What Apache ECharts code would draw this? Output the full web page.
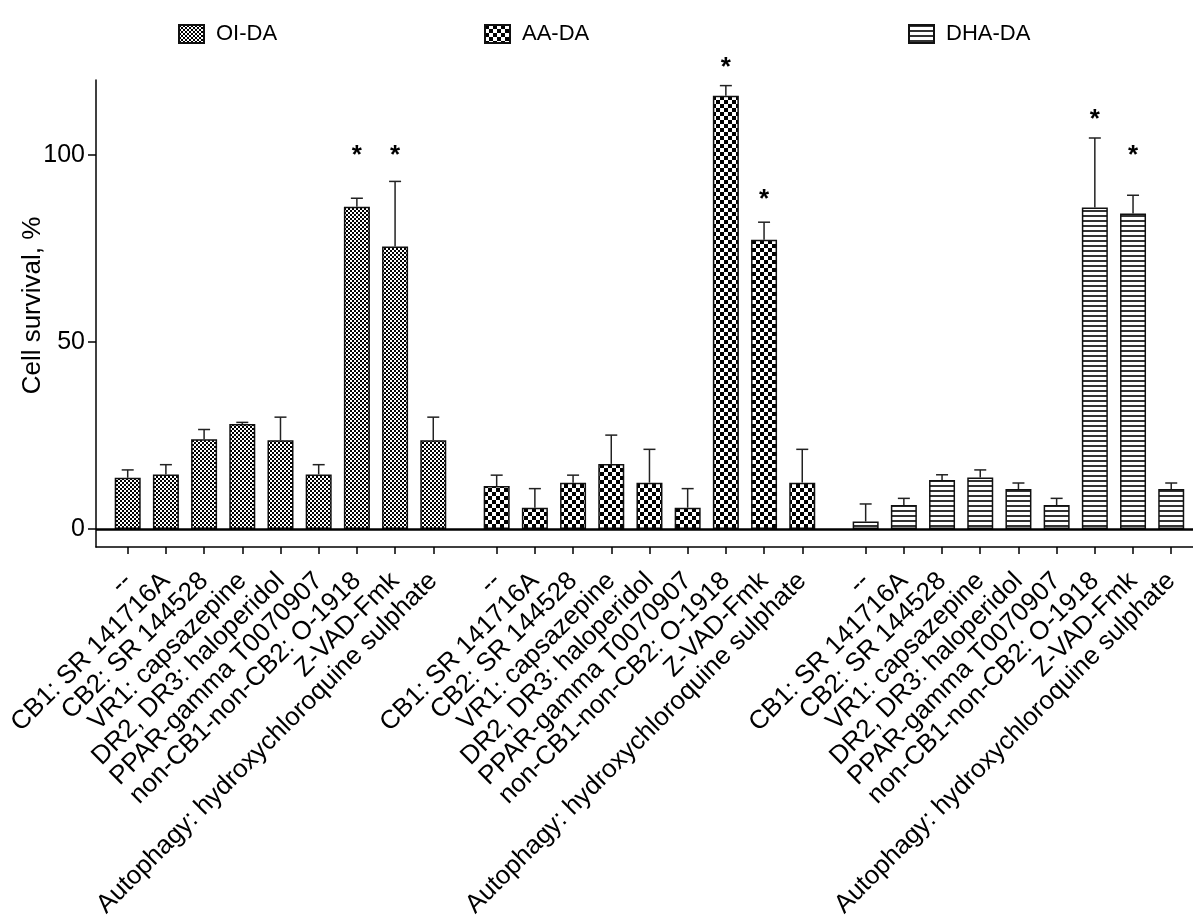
<!DOCTYPE html>
<html>
<head>
<meta charset="utf-8">
<script src="https://cdn.jsdelivr.net/npm/echarts@6/dist/echarts.min.js"></script>
<style>
html,body{margin:0;padding:0;background:#fff;}
#chart{width:1193px;height:916px;}
</style>
</head>
<body>
<div id="chart"></div>
<script>
// ---------- data ----------
const categories = ['--', 'CB1: SR 141716A', 'CB2: SR 144528', 'VR1: capsazepine',
  'DR2, DR3: haloperidol', 'PPAR-gamma T0070907', 'non-CB1-non-CB2: O-1918',
  'Z-VAD-Fmk', 'Autophagy: hydroxychloroquine sulphate'];
const seriesNames = ['OI-DA', 'AA-DA', 'DHA-DA'];
const oiValues  = [13.7, 14.6, 24.0, 28.1, 23.7, 14.6, 86.1, 75.5, 23.7];
const oiErrors  = [2.1, 2.6, 2.6, 0.4, 6.2, 2.6, 2.3, 17.4, 6.2];
const aaValues  = [11.5, 5.7, 12.4, 17.4, 12.4, 5.7, 115.8, 77.3, 12.4];
const aaErrors  = [2.9, 5.1, 2.0, 7.7, 8.9, 5.1, 2.7, 4.7, 8.9];
const dhaValues = [2.0, 6.4, 13.1, 13.8, 10.7, 6.4, 85.9, 84.3, 10.7];
const dhaErrors = [4.7, 1.8, 1.4, 2.0, 1.6, 1.8, 18.6, 4.9, 1.6];
// significance markers (level of the "*" on the value scale; null = none)
const oiStars  = [null, null, null, null, null, null, 101, 101, null];
const aaStars  = [null, null, null, null, null, null, 124.5, 89.2, null];
const dhaStars = [null, null, null, null, null, null, 110.8, 101, null];
const yTicks = [0, 50, 100];

// ---------- layout helpers ----------
const GROUP_STRIDE = 9.66; // slots between group starts (8 bars + gap)
function pos(g, i) { return +(g * GROUP_STRIDE + i).toFixed(3); }
const tickPositions = [];
const labelByPos = {};
for (let g = 0; g < 3; g++) {
  for (let i = 0; i < categories.length; i++) {
    const p = pos(g, i);
    tickPositions.push(p);
    labelByPos[p.toFixed(3)] = categories[i];
  }
}

// ---------- patterns ----------
function checker(cell) {
  const c = document.createElement('canvas');
  c.width = cell * 2; c.height = cell * 2;
  const ctx = c.getContext('2d');
  ctx.fillStyle = '#fff'; ctx.fillRect(0, 0, c.width, c.height);
  ctx.fillStyle = '#000';
  ctx.fillRect(0, 0, cell, cell);
  ctx.fillRect(cell, cell, cell, cell);
  return { image: c, repeat: 'repeat' };
}
function hlines(period, thick) {
  const c = document.createElement('canvas');
  c.width = 4; c.height = period;
  const ctx = c.getContext('2d');
  ctx.fillStyle = '#fff'; ctx.fillRect(0, 0, c.width, c.height);
  ctx.fillStyle = '#333';
  ctx.fillRect(0, 0, c.width, thick);
  return { image: c, repeat: 'repeat' };
}
const patterns = [checker(2), checker(4), hlines(5, 2)];

const allValues = [oiValues, aaValues, dhaValues];
const allErrors = [oiErrors, aaErrors, dhaErrors];
const allStars = [oiStars, aaStars, dhaStars];

const series = [];
seriesNames.forEach((name, g) => {
  series.push({
    name: name,
    type: 'bar',
    barWidth: 26,
    barGap: '-100%',
    data: allValues[g].map((v, i) => [pos(g, i), v]),
    itemStyle: { color: patterns[g], borderColor: '#111', borderWidth: 1.5 },
    z: 2,
    markLine: g === 0 ? {
      silent: true, symbol: 'none', label: { show: false },
      lineStyle: { color: '#000', width: 2.5, type: 'solid' },
      data: [{ yAxis: 0 }], z: 5
    } : undefined
  });
  series.push({
    name: name + ' SEM',
    type: 'custom',
    clip: false,
    z: 3,
    data: allValues[g].map((v, i) => [pos(g, i), v, allErrors[g][i]]),
    renderItem: function (params, api) {
      const x = api.value(0), v = api.value(1), e = api.value(2);
      const p0 = api.coord([x, v]);
      const p1 = api.coord([x, v + e]);
      const st = { stroke: '#222', lineWidth: 1.5 };
      return {
        type: 'group',
        children: [
          { type: 'line', shape: { x1: p0[0], y1: p0[1], x2: p1[0], y2: p1[1] }, style: st },
          { type: 'line', shape: { x1: p1[0] - 6, y1: p1[1], x2: p1[0] + 6, y2: p1[1] }, style: st }
        ]
      };
    }
  });
  series.push({
    name: name + ' sig',
    type: 'custom',
    clip: false,
    z: 4,
    data: allStars[g].map((s, i) => [pos(g, i), s]).filter(d => d[1] !== null),
    renderItem: function (params, api) {
      const p = api.coord([api.value(0), api.value(1)]);
      return {
        type: 'text',
        x: p[0], y: p[1] + 5,
        style: { text: '*', fontSize: 26, fontWeight: 'bold', fontFamily: 'Liberation Sans, Arial, sans-serif',
                 fill: '#000', align: 'center', verticalAlign: 'middle' }
      };
    }
  });
});

const FONT = 'Liberation Sans, Arial, Helvetica, sans-serif';
const legendBase = {
  icon: 'rect', itemWidth: 25, itemHeight: 18, padding: 0, top: 23,
  textStyle: { fontSize: 22, color: '#000', fontFamily: FONT, padding: [0, 0, 0, 7] },
  selectedMode: false
};

const option = {
  animation: false,
  backgroundColor: '#fff',
  legend: [
    Object.assign({}, legendBase, { data: ['OI-DA'], left: 178 }),
    Object.assign({}, legendBase, { data: ['AA-DA'], left: 484 }),
    Object.assign({}, legendBase, { data: ['DHA-DA'], left: 908 })
  ],
  grid: { left: 96, right: 0, top: 80, bottom: 369, containLabel: false, outerBoundsMode: 'none' },
  xAxis: {
    type: 'value',
    min: -0.83, max: 27.89,
    splitLine: { show: false },
    axisLine: { show: true, onZero: false, lineStyle: { color: '#000', width: 1.5 } },
    axisTick: { show: true, length: 7, customValues: tickPositions, lineStyle: { color: '#000', width: 1.5 } },
    axisLabel: {
      customValues: tickPositions, rotate: 45, margin: 30,
      fontSize: 26, color: '#000', fontFamily: FONT,
      formatter: function (v) { return labelByPos[(+v).toFixed(3)] || ''; }
    }
  },
  yAxis: {
    type: 'value',
    min: -4.8, max: 120,
    splitLine: { show: false },
    axisLine: { show: true, onZero: false, lineStyle: { color: '#000', width: 1.5 } },
    axisTick: { show: true, length: 8, customValues: yTicks, lineStyle: { color: '#000', width: 1.5 } },
    axisLabel: { customValues: yTicks, fontSize: 25, color: '#000', fontFamily: FONT, margin: 11 },
    name: 'Cell survival, %',
    nameLocation: 'middle',
    nameGap: 50,
    nameMoveOverlap: false,
    nameTextStyle: { fontSize: 26, color: '#000', fontFamily: FONT, padding: [0, 0, 0, 16] }
  },
  series: series
};

const chart = echarts.init(document.getElementById('chart'), null, { renderer: 'canvas' });
chart.setOption(option);
</script>
</body>
</html>
